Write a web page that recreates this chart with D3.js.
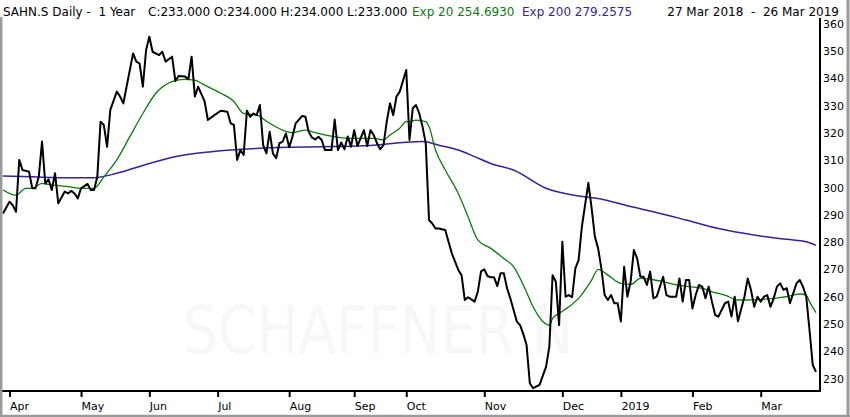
<!DOCTYPE html>
<meta charset="utf-8">
<style>
body { margin: 0; background: #fff; }
svg { display: block; }
text { font-family: "DejaVu Sans", sans-serif; white-space: pre; }
.hdr { font-size: 12px; fill: #000; }
.axis text { font-size: 11px; fill: #000; }
</style>
<body>
<svg width="850" height="417"></svg>
<script src="https://cdn.jsdelivr.net/npm/d3@7"></script>
<script>
// trading day index (0 = 27 Mar 2018), close
var closePrice = [
  [0,291],[2,295.3],[3,294],[4,291.6],[5,310.6],[6,306.9],[8,306.3],[9,300.2],[10,300.2],[11,304.4],
  [12,317.3],[13,302],[14,303.5],[15,299.6],[16,305.7],[17,294.7],[19,299],[20,298.3],[21,299.3],[22,298.3],
  [23,296.5],[24,300.2],[26,301.8],[27,299.6],[28,299.6],[29,304.4],[30,324.6],[31,323.4],[32,315.4],[33,328.9],
  [35,335.6],[36,333.8],[37,331.3],[38,337.4],[40,349.6],[41,346.6],[42,345.9],[43,337.4],[44,350.8],[45,355.7],
  [46,350.2],[48,349],[49,350.2],[50,346.6],[52,348.4],[53,339.5],[54,341.3],[56,341.1],[57,340.1],[58,348.4],
  [59,333.8],[60,337.4],[62,332],[63,325.2],[65,327],[67,328.6],[69,328.2],[70,324],[71,323.4],[72,310.6],
  [73,314.2],[74,312.4],[75,328.6],[76,326.4],[77,327.6],[78,327],[79,330.7],[80,316],[81,313],[82,320.9],
  [83,313],[84,311.2],[85,316.7],[86,317.3],[87,320.3],[88,315.2],[89,319.1],[90,324],[92,326.7],[93,326.4],
  [94,320.9],[95,318.8],[96,318.1],[97,319.1],[98,317.9],[99,314.2],[101,314.2],[102,325.4],[103,314.2],[104,317],
  [105,314.5],[106,319.2],[107,315.4],[108,321.5],[109,315.7],[111,321.5],[112,315.7],[113,321.5],[114,319.7],[115,316.7],
  [116,314.5],[117,316],[118,324.6],[119,331.3],[120,327],[121,333.8],[122,335.6],[124,343.5],[125,317.9],[126,329.5],
  [127,330.7],[128,327.6],[129,322.8],[130,316.7],[131,288.6],[132,287.3],[133,285.5],[134,285.5],[136,284.9],[137,280.6],
  [138,276.4],[140,270.3],[141,268.4],[142,259.3],[143,260.3],[144,259.5],[145,258.7],[146,262.3],[147,269.8],[148,270.5],
  [149,268.1],[150,267.6],[151,267.6],[152,264.4],[153,269.1],[154,269.1],[155,263.6],[156,259.9],[158,251.4],[159,250.1],
  [160,246.8],[161,242.8],[162,228.8],[163,227],[165,228.2],[167,234.9],[168,242.2],[169,268.4],[170,266],[171,250.1],
  [172,280.6],[173,260.5],[174,261.1],[175,260.3],[176,270.9],[177,273.9],[178,286.1],[180,302.2],[181,292.9],[182,282.5],
  [183,278.2],[184,270.9],[185,261.1],[186,259.3],[187,261.1],[188,258.1],[189,258.1],[190,251.4],[191,271.5],[192,260.5],
  [193,266],[194,277.6],[195,274.5],[196,267.8],[197,267.8],[198,264.8],[199,269.7],[200,259.9],[201,260.5],[203,267.8],
  [204,261.1],[205,260.5],[207,260.5],[208,267.2],[209,258.7],[210,266.6],[211,266.6],[212,256.2],[213,261.1],[214,264.8],
  [215,264.2],[216,259.9],[217,264.2],[218,258.7],[219,253.8],[220,253.2],[222,258.1],[223,258.7],[224,253.2],[225,260.5],
  [226,251.5],[228,260.5],[229,267.2],[230,263],[231,256.8],[232,260.5],[233,258.7],[234,260.5],[235,261.1],[236,256.8],
  [237,259.9],[238,264.2],[239,265.4],[240,263],[241,263.6],[242,258.1],[244,265.4],[245,266.6],[246,264.2],[247,260.5],
  [248,248.3],[249,235.5],[250,233]
];

var ema20 = [
  [0,299.6],[4,297.7],[7,300.2],[9,300.2],[12,302],[14,301.6],[20,300.8],[24,300.2],[28,300.2],[31,304.4],
  [35,310.6],[39,319.1],[43,327.6],[47,335],[52,339.3],[56,340.1],[59,339.8],[62,338],[64,336.8],[67,335],
  [71,332],[74,327.6],[78,327],[82,324],[86,321.5],[89,320.6],[93,321.5],[96,320.6],[101,319.3],[106,318.5],
  [109,318.5],[114,318.5],[117,317.9],[119,319.7],[122,322.2],[124,324.6],[125,324.6],[127,325.2],[130,324.6],[131,322.8],
  [133,314.2],[136,306.9],[140,298.3],[143,289.8],[146,281.3],[150,278.2],[154,274.5],[157,271.5],[160,264.8],[163,256.8],
  [166,251.4],[168,250.1],[169,252.6],[171,254.4],[174,256.8],[177,259.9],[181,266.6],[183,270.5],[186,268.4],[190,265.4],
  [193,265],[196,267.2],[199,266.9],[203,266],[207,264.8],[211,264.2],[215,263.6],[218,262.3],[222,261.1],[226,259.3],
  [228,259.3],[233,259.5],[237,259.9],[241,260.5],[245,261.5],[247,261.1],[248,258.7],[250,254.7]
];

var ema200 = [
  [0,304.7],[9,304.4],[20,304.1],[28,304.1],[35,305.7],[45,309.3],[54,312],[64,313.6],[78,314.8],[88,315.2],
  [98,315.4],[114,316],[124,317.1],[129,317.3],[134,316],[140,314.2],[145,311.8],[150,309.3],[157,306.9],[167,300.2],
  [177,297.4],[183,296.5],[193,293.5],[200,291.6],[210,288.6],[220,285.5],[231,283.1],[241,281.5],[247,280.6],[250,279.3]
];

var monthDays = [2, 24, 45, 66, 88, 108, 124, 148, 172, 190, 212, 233];
var monthLabels = ["Apr", "May", "Jun", "Jul", "Aug", "Sep", "Oct", "Nov", "Dec", "2019", "Feb", "Mar"];
var priceTicks = [230, 240, 250, 260, 270, 280, 290, 300, 310, 320, 330, 340, 350, 360];

var svg = d3.select("svg"),
    axisX = 820,
    axisY = 391;

var x = d3.scaleLinear().domain([0, 250]).range([3, 816]);
var y = d3.scaleLinear().domain([230, 360]).range([380, 25]);

// watermark
svg.append("text")
  .attr("x", 183).attr("y", 353)
  .attr("textLength", 390).attr("lengthAdjust", "spacingAndGlyphs")
  .style("font-family", "'DejaVu Sans Condensed', 'DejaVu Sans', sans-serif")
  .style("font-weight", 200)
  .style("font-size", "66px")
  .style("fill", "#f7f7f7")
  .text("SCHAFFNER N");

// header
var hdr = svg.append("g").attr("class", "hdr");
hdr.append("text").attr("x", 3).attr("y", 16).text("SAHN.S Daily -  1 Year");
hdr.append("text").attr("x", 148).attr("y", 16).text("C:233.000 O:234.000 H:234.000 L:233.000");
hdr.append("text").attr("x", 412).attr("y", 16).style("fill", "#107a10").text("Exp 20 254.6930");
hdr.append("text").attr("x", 522).attr("y", 16).style("fill", "#3b1f8e").text("Exp 200 279.2575");
hdr.append("text").attr("x", 839).attr("y", 16).attr("text-anchor", "end").text("27 Mar 2018  -  26 Mar 2019");

// lines
var line = d3.line()
  .x(function(d) { return x(d[0]); })
  .y(function(d) { return y(d[1]); });

var smooth = d3.line()
  .x(function(d) { return x(d[0]); })
  .y(function(d) { return y(d[1]); })
  .curve(d3.curveMonotoneX);

svg.append("path").datum(ema200)
  .attr("d", smooth).attr("fill", "none")
  .attr("stroke", "#3b1f96").attr("stroke-width", 1.5);

svg.append("path").datum(ema20)
  .attr("d", smooth).attr("fill", "none")
  .attr("stroke", "#0b7a0b").attr("stroke-width", 1.3);

svg.append("path").datum(closePrice)
  .attr("d", line).attr("fill", "none")
  .attr("stroke", "#000").attr("stroke-width", 2)
  .attr("stroke-linejoin", "round");

// bottom axis
var xAxis = svg.append("g")
  .attr("class", "axis")
  .attr("transform", "translate(0," + axisY + ")")
  .call(d3.axisBottom(x)
    .tickValues(monthDays)
    .tickSize(6)
    .tickFormat(function(d, i) { return monthLabels[i]; }));
xAxis.select(".domain").remove();
xAxis.selectAll(".tick line").attr("stroke", "#000").attr("stroke-width", 2);
xAxis.selectAll(".tick text")
  .attr("text-anchor", "start")
  .attr("x", 0).attr("y", 19).attr("dy", 0)
  .style("font-family", "'DejaVu Sans', sans-serif");

svg.append("line")
  .attr("x1", 2).attr("x2", axisX + 1)
  .attr("y1", axisY).attr("y2", axisY)
  .attr("stroke", "#000").attr("stroke-width", 2);

// right axis
var yAxis = svg.append("g")
  .attr("class", "axis")
  .attr("transform", "translate(" + axisX + ",0)")
  .call(d3.axisRight(y).tickValues(priceTicks).tickSize(0).tickPadding(3));
yAxis.select(".domain").remove();
yAxis.selectAll(".tick text")
  .attr("dy", "0.2em")
  .style("font-family", "'DejaVu Sans', sans-serif");

svg.append("line")
  .attr("x1", axisX).attr("x2", axisX)
  .attr("y1", 18).attr("y2", axisY + 1)
  .attr("stroke", "#000").attr("stroke-width", 2);

// frame
svg.append("line").attr("x1", 1.2).attr("x2", 1.2).attr("y1", 17).attr("y2", 417)
  .attr("stroke", "#9a9a9a").attr("stroke-width", 2.5);
svg.append("line").attr("x1", 0).attr("x2", 850).attr("y1", 416).attr("y2", 416)
  .attr("stroke", "#9a9a9a").attr("stroke-width", 2.5);
svg.append("line").attr("x1", 848).attr("x2", 848).attr("y1", 0).attr("y2", 417)
  .attr("stroke", "#9a9a9a").attr("stroke-width", 3);
</script>
</body>
